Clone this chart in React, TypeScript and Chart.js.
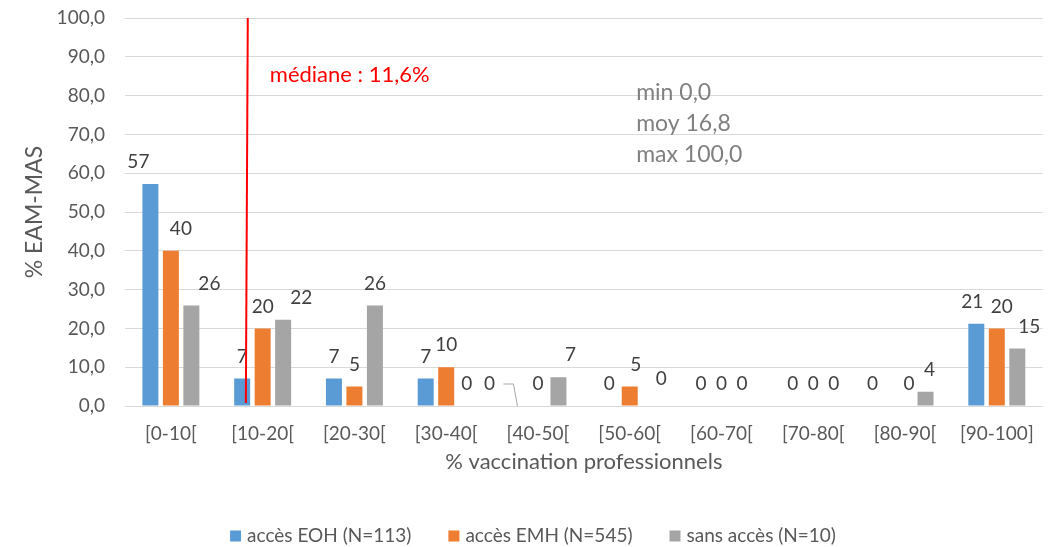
import React, { useEffect, useRef } from "react";
import { Chart, registerables } from "chart.js";

Chart.register(...registerables);

const categories = ["[0-10[", "[10-20[", "[20-30[", "[30-40[", "[40-50[", "[50-60[", "[60-70[", "[70-80[", "[80-90[", "[90-100]"];
const seriesNames = ["accès EOH (N=113)", "accès EMH (N=545)", "sans accès (N=10)"];
const eohValues = [57.2, 7.1, 7.1, 7.1, 0, 0, 0, 0, 0, 21.2];
const emhValues = [40.0, 20.0, 5.0, 10.0, 0, 5.0, 0, 0, 0, 20.0];
const sansValues = [25.9, 22.2, 25.9, 0, 7.4, 0, 0, 0, 3.7, 14.8];
const seriesColors = ["#5B9BD5", "#ED7D31", "#A5A5A5"];
const yTickValues = [0, 10, 20, 30, 40, 50, 60, 70, 80, 90, 100];
const xTitle = "% vaccination professionnels";
const yTitle = "% EAM-MAS";
const medianLabel = "médiane : 11,6%";
const statsLines = ["min 0,0", "moy 16,8", "max 100,0"];

// annotation anchors in data units (category index / y value)
const medianLine = { xTop: 0.838, xBottom: 0.817, yTop: 100, yBottom: 0.8 };
const medianText = { x: 1.078, y: 85.3 };
const statsText = { x: 5.07, y: [80.7, 72.7, 64.7] };

const FONT = "Lato";

// label nudges (px) "dataset:index" -> [dx, dy]
const labelNudges: Record<string, [number, number]> = {
  "0:0": [-12, 0],
  "1:0": [10, 0],
  "2:0": [18, 0],
  "2:1": [18, 0],
  "0:4": [-28, 0],
  "2:4": [12, 0],
  "1:5": [6, 0],
  "2:5": [11, -5],
  "0:8": [-12, 0],
  "1:8": [4, 0],
  "2:8": [4, 0],
  "0:9": [-4, 0],
  "1:9": [5, 0],
  "2:9": [12, 0],
};
const leaderLines = ["0:4"];

const barLabelsPlugin = {
  id: "barLabels",
  afterDatasetsDraw(chart: any) {
    const ctx = chart.ctx;
    const yScale = chart.scales.y;
    ctx.save();
    ctx.font = `19px ${FONT}`;
    ctx.fillStyle = "#404040";
    ctx.textAlign = "center";
    ctx.textBaseline = "middle";
    chart.data.datasets.forEach((ds: any, di: number) => {
      const meta = chart.getDatasetMeta(di);
      meta.data.forEach((bar: any, i: number) => {
        const v = ds.data[i];
        const key = `${di}:${i}`;
        const [dx, dy] = labelNudges[key] || [0, 0];
        const x = bar.x + dx;
        const y = bar.y - 22 + dy;
        ctx.fillText(String(Math.round(v)), x, y);
        if (leaderLines.includes(key)) {
          const base = yScale.getPixelForValue(0);
          ctx.save();
          ctx.strokeStyle = "#A6A6A6";
          ctx.lineWidth = 1;
          ctx.beginPath();
          ctx.moveTo(x + 14, y);
          ctx.lineTo(bar.x - 4, y);
          ctx.lineTo(bar.x, base);
          ctx.stroke();
          ctx.restore();
        }
      });
    });
    ctx.restore();
  },
};

const annotationsPlugin = {
  id: "annotations",
  afterDatasetsDraw(chart: any) {
    const ctx = chart.ctx;
    const xs = chart.scales.x;
    const ys = chart.scales.y;
    ctx.save();
    ctx.strokeStyle = "#FF0000";
    ctx.lineWidth = 2;
    ctx.beginPath();
    ctx.moveTo(xs.getPixelForValue(medianLine.xTop), ys.getPixelForValue(medianLine.yTop));
    ctx.lineTo(xs.getPixelForValue(medianLine.xBottom), ys.getPixelForValue(medianLine.yBottom));
    ctx.stroke();

    ctx.font = `22px ${FONT}`;
    ctx.fillStyle = "#FF0000";
    ctx.textAlign = "left";
    ctx.textBaseline = "middle";
    ctx.fillText(medianLabel, xs.getPixelForValue(medianText.x), ys.getPixelForValue(medianText.y));

    ctx.font = `23px ${FONT}`;
    ctx.fillStyle = "#808080";
    statsLines.forEach((line, i) => {
      ctx.fillText(line, xs.getPixelForValue(statsText.x), ys.getPixelForValue(statsText.y[i]));
    });
    ctx.restore();
  },
};

const legendPlugin = {
  id: "customLegend",
  afterDraw(chart: any) {
    const ctx = chart.ctx;
    ctx.save();
    ctx.font = `19px ${FONT}`;
    ctx.textBaseline = "middle";
    ctx.textAlign = "left";
    const box = 11;
    const gap = 6;
    const spacing = 37;
    const items = chart.data.datasets.map((ds: any) => ({
      text: ds.label,
      color: ds.backgroundColor,
      w: box + gap + ctx.measureText(ds.label).width,
    }));
    const total = items.reduce((s: number, it: any) => s + it.w, 0) + spacing * (items.length - 1);
    let x = chart.width / 2 + 8 - total / 2;
    const y = chart.height - 11;
    items.forEach((it: any) => {
      ctx.fillStyle = it.color;
      ctx.fillRect(x, y - box / 2, box, box);
      ctx.fillStyle = "#595959";
      ctx.fillText(it.text, x + box + gap, y);
      x += it.w + spacing;
    });
    ctx.restore();
  },
};

function BarChart() {
  const canvasRef = useRef<HTMLCanvasElement | null>(null);

  useEffect(() => {
    document.body.style.margin = "0";
    const canvas = canvasRef.current;
    if (!canvas) return;
    const chart = new Chart(canvas, {
      type: "bar",
      data: {
        labels: categories,
        datasets: [
          { label: seriesNames[0], data: eohValues, backgroundColor: seriesColors[0] },
          { label: seriesNames[1], data: emhValues, backgroundColor: seriesColors[1] },
          { label: seriesNames[2], data: sansValues, backgroundColor: seriesColors[2] },
        ],
      },
      options: {
        responsive: false,
        animation: false,
        maintainAspectRatio: false,
        layout: { padding: { top: 18, right: 6, left: 0, bottom: 0 } },
        datasets: {
          bar: { categoryPercentage: 0.67, barPercentage: 0.78 },
        },
        plugins: {
          legend: { display: false },
          tooltip: { enabled: false },
        },
        scales: {
          x: {
            grid: { display: false, drawTicks: false },
            border: { display: false },
            ticks: {
              color: "#595959",
              font: { family: FONT, size: 19 },
              padding: 16,
              maxRotation: 0,
              autoSkip: false,
            },
            title: {
              display: true,
              text: xTitle,
              color: "#595959",
              font: { family: FONT, size: 22 },
              padding: { top: 0, bottom: 72 },
            },
            afterFit(scale: any) {
              scale.height = 141;
            },
          },
          y: {
            min: 0,
            max: 100,
            afterBuildTicks(scale: any) {
              scale.ticks = yTickValues.map((v) => ({ value: v }));
            },
            grid: {
              color: "#D9D9D9",
              lineWidth: 1,
              drawTicks: true,
              tickLength: 17,
              tickColor: "rgba(0,0,0,0)",
            },
            border: { display: false },
            ticks: {
              color: "#595959",
              font: { family: FONT, size: 19 },
              padding: 3,
              callback: (v: any) => Number(v).toFixed(1).replace(".", ","),
            },
            title: {
              display: true,
              text: yTitle,
              color: "#595959",
              font: { family: FONT, size: 23 },
              padding: { top: 21, bottom: 0 },
            },
            afterFit(scale: any) {
              scale.width = 125;
            },
          },
        },
      },
      plugins: [barLabelsPlugin, annotationsPlugin, legendPlugin],
    });
    return () => chart.destroy();
  }, []);

  return (
    <div style={{ width: 1050, height: 547, background: "#ffffff" }}>
      <canvas ref={canvasRef} width={1050} height={547} />
    </div>
  );
}

export default function App() {
  return <BarChart />;
}
